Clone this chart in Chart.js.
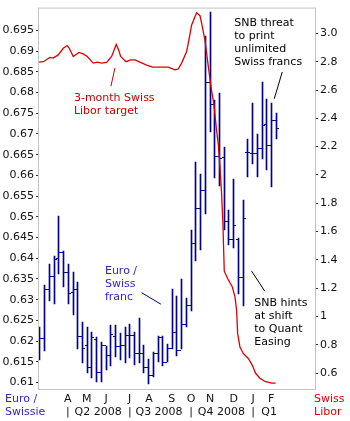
<!DOCTYPE html>
<html><head><meta charset="utf-8">
<script src="https://cdn.jsdelivr.net/npm/chart.js@4.4.1/dist/chart.umd.min.js"></script>
<style>html,body{margin:0;padding:0;background:#fff;}canvas{display:block;}</style>
</head><body>
<canvas id="c" width="350" height="421"></canvas>
<script>
// Weekly Euro / Swiss franc bars (week 0 = late Feb 2008)
const opens  = [0.6225,0.6207,0.6325,0.6355,0.6400,0.6415,0.6365,0.6318,0.6325,0.6210,0.6190,0.6135,0.6205,0.6125,0.6190,0.6165,0.6210,0.6188,0.6190,0.6213,0.6213,0.6170,0.6170,0.6137,0.6116,0.6169,0.6208,0.6149,0.6183,0.6221,0.6177,0.6241,0.6287,0.6436,0.6520,0.6564,0.6823,0.6771,0.6646,0.6644,0.6488,0.6445,0.6444,0.6353,0.6655,0.6654,0.6654,0.6665,0.6723,0.6672,0.6732];
const highs  = [0.6233,0.6335,0.6385,0.6406,0.6503,0.6417,0.6387,0.6366,0.6342,0.6245,0.6233,0.6223,0.6209,0.6197,0.6189,0.6239,0.6239,0.6219,0.6233,0.6241,0.6221,0.6255,0.6190,0.6156,0.6173,0.6213,0.6213,0.6193,0.6325,0.6309,0.6349,0.6305,0.6468,0.6632,0.6604,0.6936,0.6995,0.6782,0.6798,0.6668,0.6516,0.6592,0.6448,0.6540,0.6688,0.6775,0.6700,0.6825,0.6785,0.6775,0.6750];
const lows   = [0.6155,0.6175,0.6297,0.6290,0.6362,0.6330,0.6290,0.6262,0.6181,0.6147,0.6122,0.6110,0.6101,0.6101,0.6129,0.6141,0.6161,0.6154,0.6147,0.6159,0.6142,0.6147,0.6123,0.6097,0.6113,0.6149,0.6141,0.6149,0.6181,0.6165,0.6181,0.6233,0.6273,0.6394,0.6421,0.6506,0.6704,0.6593,0.6575,0.6468,0.6433,0.6424,0.6313,0.6285,0.6596,0.6628,0.6596,0.6640,0.6612,0.6572,0.6688];
const closes = [0.6207,0.6325,0.6355,0.6397,0.6415,0.6365,0.6315,0.6325,0.6210,0.6183,0.6135,0.6208,0.6125,0.6190,0.6165,0.6215,0.6188,0.6190,0.6213,0.6213,0.6170,0.6170,0.6137,0.6116,0.6169,0.6208,0.6149,0.6181,0.6221,0.6177,0.6241,0.6287,0.6436,0.6520,0.6564,0.6823,0.6771,0.6646,0.6641,0.6488,0.6445,0.6480,0.6353,0.6496,0.6656,0.6654,0.6665,0.6721,0.6672,0.6732,0.6713];

// 3-month Swiss Libor (right axis), positions in weeks
const liborWeek = [-0.2,0.7,2.12,2.81,3.87,4.93,5.78,6.2,7.05,8.25,9.16,10.01,11.28,12.12,13.06,14.11,15.17,16.14,16.65,17.08,18.2,19.19,20.1,21.16,22.58,23.85,25.03,26.09,27.15,28.57,29.26,29.98,31.04,31.38,32.1,32.65,33.16,33.86,34.22,34.91,35.61,36.2,36.8,37.39,37.73,38.09,38.45,38.72,39.0,39.84,40.69,41.26,41.62,41.83,42.32,43.02,44.08,44.92,45.64,46.55,47.61,49.03,49.87];
const liborRate = [2.797,2.80,2.83,2.825,2.848,2.895,2.914,2.895,2.837,2.865,2.855,2.837,2.79,2.797,2.79,2.795,2.837,2.921,2.883,2.837,2.80,2.813,2.813,2.797,2.776,2.762,2.762,2.762,2.762,2.743,2.748,2.79,2.872,2.93,3.06,3.105,3.145,3.125,3.07,2.953,2.77,2.62,2.50,2.31,2.22,2.06,1.86,1.65,1.32,1.26,1.21,1.14,1.042,0.879,0.785,0.739,0.704,0.657,0.599,0.564,0.541,0.529,0.529];

const monthLabels = ['A','M','J','J','A','S','O','N','D','J','F'];
const monthWeek   = [5.9,9.9,14,19,23.1,27.9,32,36,41,45.1,48.9];
const quarterLabels = ['|','Q2 2008','|','Q3 2008','|','Q4 2008','|','Q1'];
const quarterWeek   = [5.9,12.3,19,25.2,32,38.4,45.1,48.5];
const leftTicks  = [0.61,0.615,0.62,0.625,0.63,0.635,0.64,0.645,0.65,0.655,0.66,0.665,0.67,0.675,0.68,0.685,0.69,0.695];
const rightTicks = [3.0,2.8,2.6,2.4,2.2,2.0,1.8,1.6,1.4,1.2,1.0,0.8,0.6];
const rightTickLabels = ['3.0','2.8','2.6','2.4','2.2','2','1.8','1.6','1.4','1.2','1','0.8','0.6'];

// annotations (week, left-axis value)
const notes = [
  {text:['3-month Swiss','Libor target'], week:7.19, value:0.67794, color:'#cc0000'},
  {text:['SNB threat','to print','unlimited','Swiss francs'], week:41.11, value:0.69603, color:'#000000'},
  {text:['Euro /','Swiss','franc'], week:13.75, value:0.63622, color:'#3322cc'},
  {text:['SNB hints','at shift','to Quant','Easing'], week:45.35, value:0.62849, color:'#000000'}
];
const pointers = [
  {from:[15.87,0.68591], to:[15.02,0.68153], color:'#cc0000'},
  {from:[51.27,0.68495], to:[49.58,0.67849], color:'#000000'},
  {from:[21.52,0.63167], to:[25.6,0.6289], color:'#000080'},
  {from:[44.8,0.63687], to:[47.55,0.63208], color:'#000000'}
];

const FONT = 'DejaVu Sans';
const BAR = '#000099';
const TICK_PX = 1.5;   // open/close tick offset from the bar, in pixels

// snap the library-computed bar / tick positions to whole pixels for crisp 1px strokes
const crisp = {
  id:'crisp',
  afterDatasetsUpdate(chart){
    const bars = chart.getDatasetMeta(1).data;
    bars.forEach(el => { el.x = Math.floor(el.x) + 0.5; el.y = Math.round(el.y); el.base = Math.round(el.base); });
    [[2,-1],[3,1]].forEach(([di, side]) => {
      chart.getDatasetMeta(di).data.forEach((el, i) => {
        el.x = bars[i].x + side * TICK_PX;
        el.y = Math.floor(el.y) + 0.5;
      });
    });
  }
};

const extras = {
  id:'extras',
  beforeDatasetsDraw(chart){
    const {ctx, chartArea:a} = chart;
    ctx.save();
    ctx.strokeStyle = '#c4c4c4'; ctx.lineWidth = 1;
    ctx.strokeRect(a.left - 0.5, a.top - 0.5, a.right - a.left + 1, a.bottom - a.top + 1);
    ctx.restore();
  },
  afterDraw(chart){
    const {ctx} = chart;
    const xs = chart.scales.x, ys = chart.scales.y;
    ctx.save();
    ctx.font = '11px "' + FONT + '"';
    ctx.textBaseline = 'alphabetic'; ctx.textAlign = 'left';
    notes.forEach(n => {
      ctx.fillStyle = n.color;
      const px = xs.getPixelForValue(n.week), py = ys.getPixelForValue(n.value);
      n.text.forEach((t, i) => ctx.fillText(t, px, py + i * 13));
    });
    ctx.lineWidth = 1;
    pointers.forEach(p => {
      ctx.strokeStyle = p.color;
      ctx.beginPath();
      ctx.moveTo(xs.getPixelForValue(p.from[0]), ys.getPixelForValue(p.from[1]));
      ctx.lineTo(xs.getPixelForValue(p.to[0]), ys.getPixelForValue(p.to[1]));
      ctx.stroke();
    });
    const base = xs.top;
    ctx.fillStyle = '#3322cc';
    ctx.fillText('Euro /', 5, base + 13);
    ctx.fillText('Swissie', 5, base + 25.5);
    ctx.fillStyle = '#dd0000';
    ctx.fillText('Swiss', chart.chartArea.right - 1, base + 13);
    ctx.fillText('Libor', chart.chartArea.right - 1, base + 25.5);
    ctx.restore();
  }
};

const tickFont = {family: FONT, size: 11};

new Chart(document.getElementById('c'), {
  data: {
    datasets: [
      {type:'line', label:'Swiss Libor', order:0, xAxisID:'x', yAxisID:'y2',
       data: liborWeek.map((w,i)=>({x:w, y:liborRate[i]})),
       borderColor:'#dd0000', borderWidth:1.3, pointRadius:0, tension:0, fill:false},
      {type:'bar', label:'range', order:1, xAxisID:'x', yAxisID:'y',
       data: highs.map((h,i)=>({x:i, y:[lows[i], h]})),
       backgroundColor:BAR, borderWidth:0, barThickness:1, grouped:false},
      {type:'scatter', label:'open', order:1, xAxisID:'x', yAxisID:'y',
       data: opens.map((o,i)=>({x:i, y:o})),
       pointStyle:'line', pointRadius:1.0, pointBorderWidth:1, borderColor:BAR, backgroundColor:BAR, showLine:false},
      {type:'scatter', label:'close', order:1, xAxisID:'x', yAxisID:'y',
       data: closes.map((c,i)=>({x:i, y:c})),
       pointStyle:'line', pointRadius:1.0, pointBorderWidth:1, borderColor:BAR, backgroundColor:BAR, showLine:false}
    ]
  },
  options: {
    responsive:false, devicePixelRatio:1, animation:false,
    layout:{padding:{top:5, left:0, right:0, bottom:0}},
    plugins:{legend:{display:false}, tooltip:{enabled:false}},
    scales: {
      x: {type:'linear', position:'bottom', weight:0, min:-0.2, max:58.2, bounds:'data', offset:false,
          grid:{display:false, drawTicks:false}, border:{display:false},
          afterBuildTicks: s => { s.ticks = monthWeek.map(v=>({value:v})); },
          afterFit: s => { s.height = 17; },
          ticks:{autoSkip:false, maxRotation:0, padding:4, color:'#111', font:tickFont,
                 callback:(v,i)=>monthLabels[i]}},
      x2: {type:'linear', position:'bottom', weight:1, min:-0.2, max:58.2, bounds:'data', offset:false,
          grid:{display:false, drawTicks:false}, border:{display:false},
          afterBuildTicks: s => { s.ticks = quarterWeek.map(v=>({value:v})); },
          afterFit: s => { s.height = 15; },
          ticks:{autoSkip:false, maxRotation:0, padding:0, color:'#111', font:tickFont,
                 callback:(v,i)=>quarterLabels[i]}},
      y: {type:'linear', position:'left', min:0.60843, max:0.70026, bounds:'data',
          grid:{display:true, drawOnChartArea:false, drawTicks:true, tickLength:3, tickColor:'#333'},
          border:{display:false},
          afterBuildTicks: s => { s.ticks = leftTicks.map(v=>({value:v})); },
          afterFit: s => { s.width = 39; },
          ticks:{padding:2, color:'#111', font:tickFont, callback:(v)=>String(v)}},
      y2: {type:'linear', position:'right', min:0.488, max:3.175, bounds:'data',
          grid:{display:true, drawOnChartArea:false, drawTicks:true, tickLength:3, tickColor:'#333'},
          border:{display:false},
          afterBuildTicks: s => { s.ticks = rightTicks.map(v=>({value:v})); },
          afterFit: s => { s.width = 35; },
          ticks:{padding:2, color:'#111', font:tickFont, callback:(v,i)=>rightTickLabels[i]}}
    }
  },
  plugins:[crisp, extras]
});
</script>
</body></html>
